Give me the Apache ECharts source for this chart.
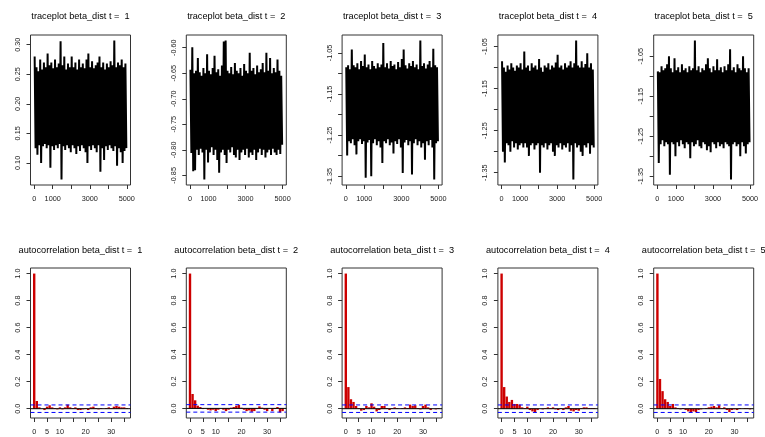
<!DOCTYPE html>
<html><head><meta charset="utf-8">
<script src="https://cdn.jsdelivr.net/npm/echarts@6/dist/echarts.min.js"></script>
<style>html,body{margin:0;padding:0;background:#fff}#c{width:765px;height:437px}</style>
</head><body><div id="c"></div>
<script>
// ---------------- data ----------------
const panelIds = [1, 2, 3, 4, 5];
const nIter = 5000;
const binWidth = 100; // each hi/lo pair summarises 100 iterations of the trace

// trace envelopes (max / min per 100 iterations)
const traceHi1 = [0.280,0.262,0.255,0.275,0.258,0.270,0.262,0.285,0.265,0.270,
  0.260,0.275,0.262,0.268,0.306,0.265,0.280,0.258,0.268,0.262,
  0.280,0.262,0.270,0.258,0.275,0.262,0.268,0.260,0.275,0.285,
  0.262,0.272,0.260,0.265,0.270,0.280,0.262,0.270,0.258,0.268,
  0.262,0.272,0.265,0.307,0.262,0.270,0.265,0.275,0.262,0.268];
const traceLo1 = [0.125,0.114,0.130,0.100,0.128,0.132,0.125,0.130,0.092,0.128,
  0.122,0.130,0.125,0.132,0.072,0.128,0.122,0.130,0.125,0.118,
  0.130,0.125,0.115,0.128,0.120,0.130,0.125,0.118,0.100,0.128,
  0.122,0.130,0.125,0.118,0.130,0.085,0.125,0.105,0.128,0.122,
  0.130,0.125,0.120,0.128,0.095,0.125,0.118,0.100,0.120,0.125];
const traceHi2 = [-0.643,-0.599,-0.650,-0.645,-0.620,-0.648,-0.655,-0.640,-0.650,-0.613,
  -0.645,-0.652,-0.640,-0.616,-0.648,-0.642,-0.655,-0.635,-0.588,-0.586,
  -0.645,-0.650,-0.638,-0.652,-0.630,-0.645,-0.650,-0.640,-0.655,-0.632,
  -0.645,-0.650,-0.610,-0.645,-0.640,-0.652,-0.635,-0.648,-0.642,-0.630,
  -0.648,-0.610,-0.645,-0.620,-0.650,-0.640,-0.648,-0.623,-0.645,-0.655];
const traceLo2 = [-0.806,-0.842,-0.840,-0.800,-0.810,-0.798,-0.805,-0.858,-0.800,-0.825,
  -0.805,-0.795,-0.810,-0.800,-0.820,-0.845,-0.805,-0.800,-0.810,-0.826,
  -0.800,-0.805,-0.795,-0.810,-0.815,-0.800,-0.820,-0.805,-0.800,-0.810,
  -0.798,-0.815,-0.805,-0.810,-0.800,-0.820,-0.805,-0.798,-0.810,-0.800,
  -0.815,-0.805,-0.800,-0.810,-0.798,-0.805,-0.810,-0.800,-0.808,-0.790];
const traceHi3 = [-1.085,-1.080,-1.090,-1.042,-1.080,-1.085,-1.075,-1.090,-1.070,-1.082,
  -1.054,-1.085,-1.078,-1.090,-1.070,-1.082,-1.088,-1.075,-1.085,-1.078,
  -1.026,-1.085,-1.075,-1.088,-1.070,-1.082,-1.078,-1.090,-1.072,-1.085,
  -1.065,-1.042,-1.080,-1.088,-1.075,-1.082,-1.070,-1.085,-1.078,-1.090,
  -1.020,-1.082,-1.075,-1.088,-1.078,-1.070,-1.085,-1.040,-1.080,-1.085];
const traceLo3 = [-1.300,-1.265,-1.270,-1.260,-1.275,-1.297,-1.265,-1.260,-1.272,-1.265,
  -1.354,-1.268,-1.262,-1.350,-1.270,-1.260,-1.275,-1.265,-1.280,-1.318,
  -1.265,-1.270,-1.260,-1.275,-1.268,-1.295,-1.265,-1.272,-1.260,-1.280,
  -1.342,-1.268,-1.262,-1.275,-1.265,-1.346,-1.270,-1.260,-1.275,-1.265,
  -1.280,-1.270,-1.310,-1.265,-1.275,-1.262,-1.280,-1.358,-1.270,-1.265];
const traceHi4 = [-1.085,-1.100,-1.110,-1.095,-1.105,-1.090,-1.100,-1.108,-1.095,-1.100,
  -1.090,-1.105,-1.062,-1.100,-1.095,-1.108,-1.090,-1.100,-1.095,-1.105,
  -1.080,-1.100,-1.110,-1.095,-1.100,-1.090,-1.105,-1.095,-1.100,-1.088,
  -1.070,-1.100,-1.095,-1.105,-1.090,-1.100,-1.095,-1.085,-1.100,-1.090,
  -1.036,-1.095,-1.100,-1.085,-1.100,-1.092,-1.066,-1.100,-1.090,-1.105];
const traceLo4 = [-1.300,-1.326,-1.280,-1.285,-1.300,-1.275,-1.290,-1.280,-1.295,-1.285,
  -1.280,-1.290,-1.280,-1.290,-1.310,-1.285,-1.280,-1.295,-1.285,-1.280,
  -1.350,-1.285,-1.290,-1.280,-1.295,-1.285,-1.280,-1.300,-1.310,-1.285,
  -1.290,-1.280,-1.295,-1.285,-1.290,-1.280,-1.300,-1.285,-1.366,-1.280,
  -1.290,-1.285,-1.300,-1.310,-1.285,-1.290,-1.280,-1.305,-1.285,-1.290];
const traceHi5 = [-1.088,-1.090,-1.075,-1.085,-1.080,-1.070,-1.050,-1.080,-1.090,-1.055,
  -1.085,-1.078,-1.090,-1.070,-1.085,-1.080,-1.090,-1.075,-1.085,-1.080,
  -1.011,-1.085,-1.075,-1.090,-1.080,-1.085,-1.070,-1.055,-1.080,-1.090,
  -1.075,-1.085,-1.058,-1.085,-1.078,-1.090,-1.075,-1.085,-1.070,-1.033,
  -1.085,-1.078,-1.090,-1.070,-1.080,-1.085,-1.050,-1.080,-1.090,-1.080];
const traceLo5 = [-1.317,-1.270,-1.260,-1.275,-1.265,-1.270,-1.346,-1.265,-1.270,-1.300,
  -1.265,-1.275,-1.260,-1.270,-1.280,-1.265,-1.270,-1.305,-1.265,-1.275,
  -1.270,-1.260,-1.275,-1.280,-1.265,-1.270,-1.285,-1.275,-1.290,-1.265,
  -1.270,-1.280,-1.265,-1.275,-1.270,-1.280,-1.265,-1.270,-1.275,-1.358,
  -1.270,-1.265,-1.275,-1.270,-1.300,-1.265,-1.275,-1.293,-1.270,-1.265];

// autocorrelations, lags 0..36
const acf1 = [1.0,0.057,0.01,0.0,-0.01,0.015,0.025,0.01,0.005,-0.005,0.01,-0.005,0.01,0.03,0.01,0.005,0.01,-0.01,-0.01,-0.005,0.005,-0.01,0.01,0.015,0.005,-0.005,0.005,0.0,0.005,0.01,0.005,0.015,0.02,0.015,0.01,0.01,0.005];
const acf2 = [1.0,0.107,0.06,0.02,0.01,-0.005,0.0,-0.01,-0.015,-0.01,-0.02,-0.01,0.0,-0.01,-0.02,-0.01,0.005,0.01,0.02,0.025,0.005,-0.01,-0.02,-0.015,-0.025,-0.02,-0.005,0.015,0.005,-0.01,-0.02,0.0,-0.02,-0.005,0.01,-0.03,-0.02];
const acf3 = [1.0,0.16,0.07,0.05,0.02,0.005,-0.015,-0.01,0.02,0.01,0.04,0.015,-0.02,-0.01,0.02,0.02,0.005,-0.01,0.005,0.01,0.005,0.0,0.005,0.01,0.005,0.03,0.02,0.025,0.005,-0.005,0.02,0.03,0.01,-0.01,0.0,-0.005,0.005];
const acf4 = [1.0,0.16,0.09,0.05,0.065,0.035,0.035,0.03,0.01,0.005,0.015,-0.01,-0.02,-0.025,-0.01,0.0,-0.005,0.005,0.01,0.005,0.01,-0.005,-0.01,0.005,-0.01,0.01,0.02,-0.015,-0.02,-0.01,-0.015,0.005,0.01,0.01,0.005,0.005,0.005];
const acf5 = [1.0,0.22,0.13,0.07,0.05,0.02,0.035,0.01,0.005,-0.005,0.005,-0.01,-0.02,-0.025,-0.02,-0.025,-0.01,-0.005,0.0,0.005,0.01,0.015,0.02,0.01,0.025,0.005,0.01,-0.01,-0.025,-0.01,-0.005,-0.01,0.005,0.0,0.005,0.005,-0.005];

// tick values and labels
const traceXTicks = [0,1000,2000,3000,4000,5000];
const traceXLabels = [0,1000,3000,5000];
const traceYTicks1 = [0.10,0.15,0.20,0.25,0.30];
const traceYLabels1 = [0.10,0.15,0.20,0.25,0.30];
const traceYTicks2 = [-0.85,-0.80,-0.75,-0.70,-0.65,-0.60];
const traceYLabels2 = [-0.85,-0.80,-0.75,-0.70,-0.65,-0.60];
const traceYTicks345 = [-1.35,-1.30,-1.25,-1.20,-1.15,-1.10,-1.05];
const traceYLabels345 = [-1.35,-1.25,-1.15,-1.05];
const acfXTicks = [0,5,10,15,20,25,30,35];
const acfXLabels = [0,5,10,20,30];
const acfYTicks = [0,0.2,0.4,0.6,0.8,1.0];
const maxLag = 36;
const ciZ = 1.96;

// ---------------- build ----------------
const traceHi = [traceHi1,traceHi2,traceHi3,traceHi4,traceHi5];
const traceLo = [traceLo1,traceLo2,traceLo3,traceLo4,traceLo5];
const acfs = [acf1,acf2,acf3,acf4,acf5];
const yTicks = [traceYTicks1,traceYTicks2,traceYTicks345,traceYTicks345,traceYTicks345];
const yLabels = [traceYLabels1,traceYLabels2,traceYLabels345,traceYLabels345,traceYLabels345];
const clim = ciZ / Math.sqrt(nIter);

const lefts = [30.5,186.3,342.1,497.9,653.7];
const W = 100, H = 150, topT = 35, topA = 268;
const FONT = '"Liberation Sans", Arial, sans-serif';
const AX = '#333';

function extend(lo, hi){ const r = hi - lo; return [lo - 0.04*r, hi + 0.04*r]; }

const grids = [], xAxes = [], yAxes = [], series = [], titles = [];
panelIds.forEach((id, i) => {
  const cx = lefts[i] + W/2;
  titles.push({text: 'traceplot beta_dist t =  ' + id, left: cx, top: 12, textAlign: 'center', padding: 0,
    textStyle: {fontFamily: FONT, fontSize: 9.2, fontWeight: 'normal', color: '#000'}});
  titles.push({text: 'autocorrelation beta_dist t =  ' + id, left: cx, top: 246, textAlign: 'center', padding: 0,
    textStyle: {fontFamily: FONT, fontSize: 9.2, fontWeight: 'normal', color: '#000'}});
});

function axisCommon(ticks, labels, fmt, isY){
  return {
    axisLine: {show: false, onZero: false},
    axisTick: {show: true, length: 4, customValues: ticks, lineStyle: {color: AX, width: 1}},
    axisLabel: {customValues: labels, formatter: fmt, fontFamily: FONT, fontSize: 7.3, color: '#222',
      margin: isY ? 9 : 10, rotate: isY ? 90 : 0},
    splitLine: {show: false}
  };
}

function refLine(gi, xr, y, color, type){
  return {type: 'line', xAxisIndex: gi, yAxisIndex: gi, data: [[xr[0], y], [xr[1], y]],
    showSymbol: false, symbol: 'none', silent: true, animation: false, z: 5,
    lineStyle: {color: color, width: 1, type: type}};
}

panelIds.forEach((id, i) => {
  // trace panel
  const gi = i;
  grids.push({left: lefts[i], top: topT, width: W, height: H, show: true, borderColor: AX, borderWidth: 1, containLabel: false});
  xAxes.push(Object.assign({type: 'value', gridIndex: gi, min: 1 - 0.04*(nIter-1), max: nIter + 0.04*(nIter-1)},
    axisCommon(traceXTicks, traceXLabels, v => String(v), false)));
  const hi = traceHi[i], lo = traceLo[i];
  const yr = extend(Math.min(...lo), Math.max(...hi));
  yAxes.push(Object.assign({type: 'value', gridIndex: gi, min: yr[0], max: yr[1]},
    axisCommon(yTicks[i], yLabels[i], v => v.toFixed(2), true)));
  const pts = [];
  hi.forEach((h, k) => {
    pts.push([k*binWidth + binWidth*0.25, h]);
    pts.push([k*binWidth + binWidth*0.75, lo[k]]);
  });
  series.push({type: 'line', xAxisIndex: gi, yAxisIndex: gi, data: pts, showSymbol: false, symbol: 'none',
    lineStyle: {color: '#000', width: 2}, silent: true, animation: false});
});

panelIds.forEach((id, i) => {
  const gi = 5 + i;
  grids.push({left: lefts[i], top: topA, width: W, height: H, show: true, borderColor: AX, borderWidth: 1, containLabel: false});
  const xr = [-0.04*maxLag, maxLag*1.04];
  xAxes.push(Object.assign({type: 'value', gridIndex: gi, min: xr[0], max: xr[1]},
    axisCommon(acfXTicks, acfXLabels, v => String(v), false)));
  const a = acfs[i];
  const yr = extend(Math.min(-clim, ...a), Math.max(clim, ...a));
  yAxes.push(Object.assign({type: 'value', gridIndex: gi, min: yr[0], max: yr[1]},
    axisCommon(acfYTicks, acfYTicks, v => v.toFixed(1), true)));
  series.push({type: 'bar', xAxisIndex: gi, yAxisIndex: gi, barWidth: 2.4,
    data: a.map((v, lag) => [lag, v]), itemStyle: {color: '#CD0000'}, silent: true, animation: false, z: 2});
  series.push(refLine(gi, xr, 0, '#000', 'solid'));
  series.push(refLine(gi, xr, clim, '#0000FF', [4, 3]));
  series.push(refLine(gi, xr, -clim, '#0000FF', [4, 3]));
});

const chart = echarts.init(document.getElementById('c'), null, {renderer: 'canvas'});
chart.setOption({animation: false, backgroundColor: '#fff', title: titles, grid: grids, xAxis: xAxes, yAxis: yAxes, series: series});
</script>
</body></html>
